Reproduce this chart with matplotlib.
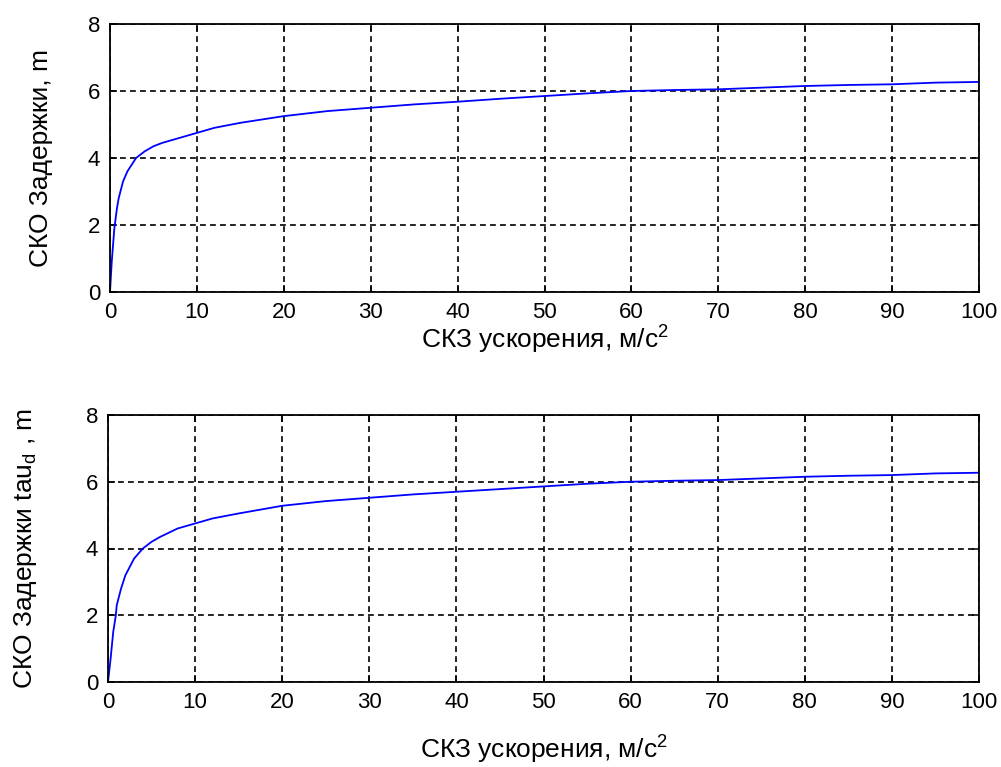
import matplotlib
matplotlib.use("Agg")
import matplotlib.pyplot as plt

plt.rcParams['font.family'] = ['Liberation Sans', 'DejaVu Sans']
plt.rcParams['mathtext.fontset'] = 'custom'
plt.rcParams['mathtext.rm'] = 'Liberation Sans'
plt.rcParams['mathtext.it'] = 'Liberation Sans'

# values
accel_top = [0, 0.2, 0.5, 0.8, 1, 1.5, 2, 3, 4, 5, 6, 8, 10, 12, 15, 20, 25, 30,
             35, 40, 45, 50, 55, 60, 65, 70, 75, 80, 85, 90, 95, 100]
delay_top = [0, 0.9, 1.9, 2.5, 2.8, 3.3, 3.6, 4.0, 4.2, 4.35, 4.45, 4.6, 4.75, 4.9,
             5.05, 5.25, 5.4, 5.5, 5.6, 5.68, 5.77, 5.85, 5.93, 6.0, 6.03, 6.05,
             6.1, 6.15, 6.18, 6.2, 6.25, 6.27]

accel_bot = [0, 0.3, 0.6, 0.9, 1, 1.5, 2, 3, 4, 5, 6, 8, 10, 12, 15, 20, 25, 30,
             35, 40, 45, 50, 55, 60, 65, 70, 75, 80, 85, 90, 95, 100]
delay_bot = [0, 0.7, 1.5, 2.0, 2.3, 2.8, 3.2, 3.7, 4.0, 4.2, 4.35, 4.6, 4.75, 4.9,
             5.05, 5.28, 5.42, 5.52, 5.62, 5.7, 5.78, 5.86, 5.94, 6.0, 6.03, 6.05,
             6.1, 6.15, 6.18, 6.2, 6.25, 6.27]

xticks = list(range(0, 101, 10))
yticks = [0, 2, 4, 6, 8]

fig = plt.figure(figsize=(10.01, 7.67), dpi=100)
ax1 = fig.add_axes([110 / 1001, 1 - 292 / 767, 869 / 1001, 268 / 767])
ax2 = fig.add_axes([108 / 1001, 1 - 682 / 767, 871 / 1001, 267 / 767])

panels = [
    (ax1, accel_top, delay_top, 'СКО Задержки, m', 1, 25),
    (ax2, accel_bot, delay_bot, 'СКО Задержки tau$_d$ , m', 15, 34),
]

for ax, x, y, ylab, xpad, ypad in panels:
    ax.plot(x, y, color='blue', linewidth=1.3)
    ax.set_xlim(0, 100)
    ax.set_ylim(0, 8)
    ax.set_xticks(xticks)
    ax.set_yticks(yticks)
    ax.grid(True, color='black', linestyle=(0, (3.5, 2.5)), linewidth=1.2)
    ax.tick_params(direction='in', length=5, width=1.1, labelsize=16, pad=7,
                   top=True, right=True)
    for s in ax.spines.values():
        s.set_linewidth(1.3)
    ax.set_xlabel('СКЗ ускорения, м/с$^2$', fontsize=19, labelpad=xpad)
    ax.set_ylabel(ylab, fontsize=19, labelpad=ypad)

fig.savefig('out.png', dpi=100)
